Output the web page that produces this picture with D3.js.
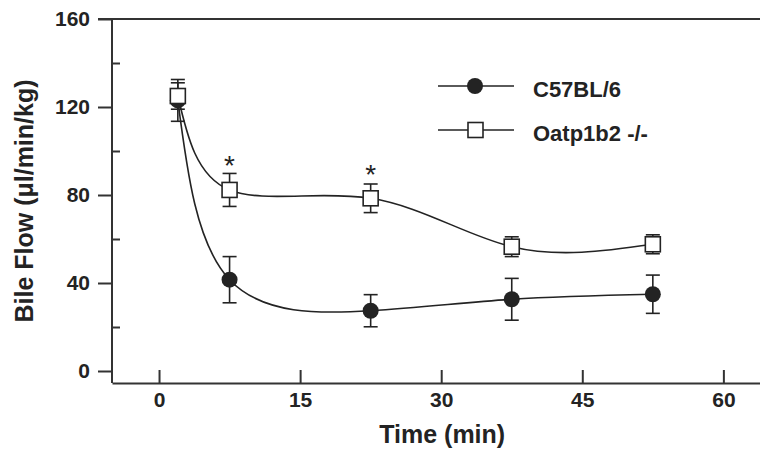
<!DOCTYPE html>
<html>
<head>
<meta charset="utf-8">
<script src="https://cdn.jsdelivr.net/npm/d3@7"></script>
<style>
  body { margin: 0; background: #fff; }
  svg { display: block; font-family: "Liberation Sans", Arial, sans-serif; font-weight: bold; }
</style>
</head>
<body>
<div class="visHolder"></div>
<script>
const times = [2, 7.5, 22.5, 37.5, 52.5];
const wildMean = [123, 41.5, 27.4, 32.6, 34.9];
const wildErr = [9.5, 10.5, 7.3, 9.5, 8.7];
const knockMean = [125, 82.3, 78.5, 56.5, 57.6];
const knockErr = [6, 7.5, 6.5, 4.5, 4.3];
const starTimes = [7.5, 22.5];
const starValues = [96.5, 92.5];
const xTicks = [0, 15, 30, 45, 60];
const yTicks = [0, 40, 80, 120, 160];
const yMinorTicks = [20, 60, 100, 140];

const fullWidth = 760;
const fullHeight = 456;
const ink = "#232323";

const x = d3.scaleLinear().domain([-5, 64]).range([112, 761]);
const y = d3.scaleLinear().domain([0, 160]).range([371, 19]);
const axisY = 383;

const svg = d3.select(".visHolder")
    .append("svg")
    .attr("width", fullWidth)
    .attr("height", fullHeight);

// axes
const xAxis = svg.append("g")
    .attr("transform", "translate(0," + axisY + ")")
    .call(d3.axisBottom(x).tickValues(xTicks).tickSize(-13).tickSizeOuter(0).tickPadding(17));
const yAxis = svg.append("g")
    .attr("transform", "translate(" + x(-5) + ",0)")
    .call(d3.axisLeft(y).tickValues(yTicks).tickSize(14).tickSizeOuter(0).tickPadding(8));
yAxis.select(".domain").remove();
svg.append("g")
    .attr("transform", "translate(" + x(-5) + ",0)")
    .call(d3.axisLeft(y).tickValues(yMinorTicks).tickSize(-8).tickFormat(""))
    .select(".domain").remove();
svg.selectAll(".tick line, .domain").attr("stroke", "#333").attr("stroke-width", 2);
svg.selectAll(".tick text").attr("fill", ink).style("font-size", "21px").style("font-weight", "bold")
    .style("font-family", "'Liberation Sans', Arial, sans-serif");
xAxis.selectAll(".tick text").attr("dy", "0.35em");

svg.append("line")
    .attr("x1", x(-5)).attr("x2", x(-5))
    .attr("y1", y(160)).attr("y2", axisY)
    .attr("stroke", "#333").attr("stroke-width", 2);
svg.append("line")
    .attr("x1", x(-5) - 14).attr("x2", fullWidth)
    .attr("y1", y(160)).attr("y2", y(160))
    .attr("stroke", "#333").attr("stroke-width", 2);

// titles
svg.append("text")
    .attr("x", x(30) + 1)
    .attr("y", 443)
    .attr("text-anchor", "middle")
    .attr("fill", ink)
    .style("font-size", "25px")
    .text("Time (min)");
svg.append("text")
    .attr("transform", "translate(33," + 201 + ") rotate(-90)")
    .attr("text-anchor", "middle")
    .attr("fill", ink)
    .style("font-size", "25px")
    .text("Bile Flow (μl/min/kg)");

const series = [
    { name: "C57BL/6", mean: wildMean, err: wildErr, filled: true },
    { name: "Oatp1b2 -/-", mean: knockMean, err: knockErr, filled: false }
];

const line = d3.line()
    .x(d => x(d[0]))
    .y(d => y(d[1]))
    .curve(d3.curveNatural);

series.forEach(s => {
    const pts = times.map((t, i) => [t, s.mean[i], s.err[i]]);
    const g = svg.append("g");
    // error bars
    pts.forEach(p => {
        g.append("line")
            .attr("x1", x(p[0])).attr("x2", x(p[0]))
            .attr("y1", y(p[1] - p[2])).attr("y2", y(p[1] + p[2]))
            .attr("stroke", ink).attr("stroke-width", 1.6);
        [p[1] - p[2], p[1] + p[2]].forEach(v => {
            g.append("line")
                .attr("x1", x(p[0]) - 7).attr("x2", x(p[0]) + 7)
                .attr("y1", y(v)).attr("y2", y(v))
                .attr("stroke", ink).attr("stroke-width", 1.6);
        });
    });
    g.append("path")
        .attr("d", line(pts))
        .attr("fill", "none")
        .attr("stroke", ink)
        .attr("stroke-width", 1.6);
    s.pts = pts;
});

// markers drawn after all curves
series.forEach(s => {
    s.pts.forEach(p => {
        if (s.filled) {
            svg.append("circle")
                .attr("cx", x(p[0])).attr("cy", y(p[1]))
                .attr("r", 8).attr("fill", ink);
        } else {
            svg.append("rect")
                .attr("x", x(p[0]) - 7.5).attr("y", y(p[1]) - 7.5)
                .attr("width", 15).attr("height", 15)
                .attr("fill", "#fff").attr("stroke", ink).attr("stroke-width", 1.6);
        }
    });
});

// significance stars
svg.selectAll(".star")
    .data(starTimes)
    .enter()
    .append("text")
    .attr("class", "star")
    .attr("x", d => x(d))
    .attr("y", (d, i) => y(starValues[i]) + 16)
    .attr("text-anchor", "middle")
    .attr("fill", ink)
    .style("font-size", "28px")
    .style("font-weight", "normal")
    .text("*");

// legend
const legend = svg.selectAll(".legend")
    .data(series)
    .enter()
    .append("g")
    .attr("class", "legend")
    .attr("transform", (d, i) => "translate(438," + (86 + i * 44) + ")");
legend.append("line")
    .attr("x1", 0).attr("x2", 76)
    .attr("stroke", ink).attr("stroke-width", 1.6);
legend.each(function (d) {
    const el = d3.select(this);
    if (d.filled) {
        el.append("circle").attr("cx", 37).attr("r", 8).attr("fill", ink);
    } else {
        el.append("rect").attr("x", 30).attr("y", -7.5).attr("width", 15).attr("height", 15)
            .attr("fill", "#fff").attr("stroke", ink).attr("stroke-width", 1.6);
    }
});
legend.append("text")
    .attr("x", 95)
    .attr("y", 11)
    .attr("fill", ink)
    .style("font-size", "22px")
    .text(d => d.name);
</script>
</body>
</html>
